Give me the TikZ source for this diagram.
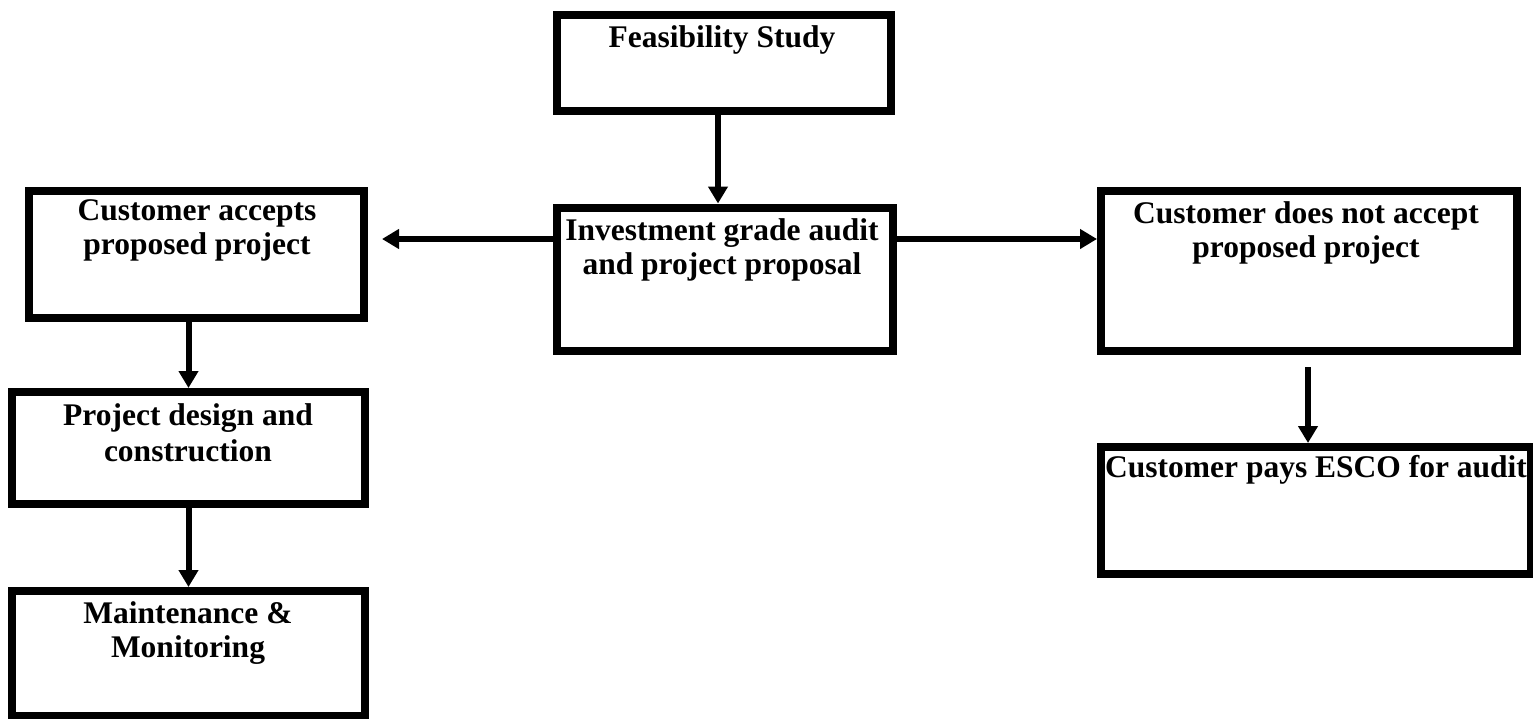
\documentclass[tikz,border=0pt]{standalone}
\usepackage{fontspec}
\setmainfont{Liberation Serif}
\usetikzlibrary{arrows.meta}
\begin{document}
\begin{tikzpicture}[x=1pt,y=-1pt,
  box/.style={draw, line width=8pt, rectangle, inner sep=0pt, fill=white},
  txt/.style={font=\bfseries\fontsize{31.5}{34}\selectfont, align=center, inner sep=0pt, anchor=base},
  arr/.style={line width=6pt, -{Triangle[length=17pt,width=19pt]}}]
\useasboundingbox (0,0) rectangle (1533,718);
% boxes
\node[box, minimum width=334pt, minimum height=96.5pt] (feas) at (724,62.75) {};
\node[box, minimum width=336pt, minimum height=143.5pt] (inv) at (725,279.25) {};
\node[box, minimum width=335pt, minimum height=127pt] (acc) at (196.5,254.5) {};
\node[box, minimum width=416pt, minimum height=160pt] (notacc) at (1309,271) {};
\node[box, minimum width=353pt, minimum height=112pt] (design) at (188.5,448) {};
\node[box, minimum width=353pt, minimum height=125pt] (maint) at (188.5,653.5) {};
\node[box, minimum width=430pt, minimum height=127pt] (esco) at (1316,510.5) {};
% texts (anchor base = baseline of the last line)
\node[txt] (feast) at (722,47) {Feasibility Study};
\node[txt] (invt) at (722,274) {Investment grade audit\\and project proposal};
\node[txt] (acct) at (197,254) {Customer accepts\\proposed project};
\node[txt] (notacct) at (1306,257) {Customer does not accept\\proposed project};
\node[txt] (designt) at (188,461) {Project design and\\[2pt]construction};
\node[txt] (maintt) at (188,657) {Maintenance \&\\Monitoring};
\node[txt, anchor=base west] (escot) at (1105,477) {Customer pays ESCO for audit};
% connectors
\coordinate (accin) at (382,239);
\coordinate (escoin) at (1308,367);
\draw[arr] ([xshift=-6pt]feas.south) -- ([xshift=-7pt]inv.north);
\draw[arr] ([yshift=40.25pt]inv.west) -- (accin);
\draw[arr] ([yshift=40.25pt]inv.east) -- ([yshift=32pt]notacc.west);
\draw[arr] (design.north |- acc.south) -- (design.north);
\draw[arr] (design.south) -- (maint.north);
\draw[arr] (escoin) -- (esco.north -| escoin);
\end{tikzpicture}
\end{document}
